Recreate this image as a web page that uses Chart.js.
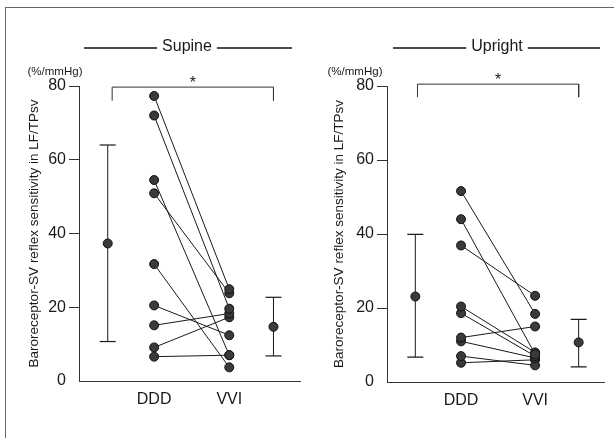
<!DOCTYPE html>
<html lang="en">
<head>
  <meta charset="UTF-8">
  <script src="https://cdn.jsdelivr.net/npm/chart.js"></script>
  <style>
    html, body { margin: 0; padding: 0; background: #fff; }
    #wrap { position: relative; width: 614px; height: 438px; overflow: hidden; }
    #frame {
      position: absolute; left: 5px; top: 7px; width: 640px; height: 460px;
      border-top: 1px solid #666; border-left: 1px solid #666; /* scanned page edge */
    }
    canvas { position: absolute; top: 0; }
    #supineChart { left: 0; }
    #uprightChart { left: 310px; }
  </style>
</head>
<body>
  <div id="wrap">
    <div id="frame"></div>
    <canvas id="supineChart" width="310" height="438"></canvas>
    <canvas id="uprightChart" width="304" height="438"></canvas>
  </div>

  <script>
    // categories and where they sit on the (hidden) 0..10 x scale
    const groups = ['DDD', 'VVI'];
    const groupX = [3.4, 6.8];
    const meanX = [1.3, 8.8];
    const yTicks = [0, 20, 40, 60, 80];

    // individual patients, DDD value paired with VVI value
    const supineDDD = [77.3, 72.0, 54.5, 50.9, 31.7, 20.5, 15.1, 9.1, 6.6];
    const supineVVI = [24.9, 19.6, 7.0, 23.8, 3.7, 12.4, 18.3, 17.3, 7.0];
    const supineMean = [37.3, 14.7];
    const supineLow = [10.7, 6.8];
    const supineHigh = [64.0, 22.7];

    const uprightDDD = [51.6, 44.0, 36.9, 20.4, 18.6, 12.0, 11.0, 7.0, 5.2];
    const uprightVVI = [18.4, 7.5, 23.3, 8.0, 7.0, 15.0, 6.5, 4.5, 6.0];
    const uprightMean = [23.1, 10.7];
    const uprightLow = [6.7, 4.1];
    const uprightHigh = [39.9, 16.9];

    const ink = '#1a1a1a';
    const font = 'Liberation Sans, Arial, sans-serif';

    // panel heading with rules, unit label and the significance star
    const annotations = {
      id: 'annotations',
      afterDraw(chart, args, opts) {
        const ctx = chart.ctx;
        ctx.save();
        ctx.fillStyle = ink;
        ctx.strokeStyle = '#111';
        ctx.lineWidth = 1.6;

        ctx.font = '16px ' + font;
        ctx.textAlign = 'center';
        ctx.textBaseline = 'middle';
        const w = ctx.measureText(opts.title).width;
        ctx.fillText(opts.title, opts.cx, opts.ty);
        ctx.beginPath();
        ctx.moveTo(opts.x0, opts.ty + 1);
        ctx.lineTo(opts.cx - w / 2 - 5, opts.ty + 1);
        ctx.moveTo(opts.cx + w / 2 + 5, opts.ty + 1);
        ctx.lineTo(opts.x1, opts.ty + 1);
        ctx.stroke();

        const xs = chart.scales.x;
        const ys = chart.scales.y;
        ctx.font = '16px ' + font;
        ctx.fillText('*', xs.getPixelForValue((opts.bx[0] + opts.bx[1]) / 2), ys.getPixelForValue(opts.by[1]) - 4);

        ctx.font = '11.5px ' + font;
        ctx.fillText('(%/mmHg)', opts.ux, 72);
        ctx.restore();
      }
    };

    function makeChart(id, ddd, vvi, mean, low, high, o) {
      const datasets = [];

      // means with SD bars
      for (let g = 0; g < 2; g++) {
        datasets.push({
          data: [{ x: meanX[g], y: mean[g] }],
          pointRadius: 4.5, backgroundColor: '#3a3a3a', borderColor: '#111', borderWidth: 1
        });
        datasets.push({
          data: [{ x: meanX[g], y: low[g] }, { x: meanX[g], y: high[g] }],
          showLine: true, borderColor: ink, borderWidth: 1,
          pointStyle: 'line', pointRadius: 8, pointBorderColor: ink, pointBorderWidth: 1.2
        });
      }

      // paired patients
      for (let i = 0; i < ddd.length; i++) {
        datasets.push({
          data: [{ x: groupX[0], y: ddd[i] }, { x: groupX[1], y: vvi[i] }],
          showLine: true, borderColor: ink, borderWidth: 1,
          pointRadius: 4.5, pointBackgroundColor: '#3a3a3a', pointBorderColor: '#111', pointBorderWidth: 1
        });
      }

      // significance bracket
      datasets.push({
        data: [
          { x: o.bx[0], y: o.by[0] }, { x: o.bx[0], y: o.by[1] },
          { x: o.bx[1], y: o.by[1] }, { x: o.bx[1], y: o.by[0] }
        ],
        showLine: true, borderColor: '#333', borderWidth: 1, pointRadius: 0, clip: false
      });

      return new Chart(document.getElementById(id), {
        type: 'scatter',
        data: { datasets },
        plugins: [annotations],
        options: {
          responsive: false,
          animation: false,
          layout: { padding: { top: 86, right: o.padRight, left: 0, bottom: 0 } },
          plugins: {
            legend: { display: false },
            tooltip: { enabled: false },
            annotations: o
          },
          scales: {
            x: {
              type: 'linear', min: 0, max: 10,
              afterBuildTicks: s => { s.ticks = groupX.map(v => ({ value: v })); },
              afterFit: s => { s.height = o.xHeight; },
              grid: { display: false, drawTicks: false },
              border: { display: true, color: '#333', width: 1 },
              ticks: {
                padding: 9, color: ink, font: { family: font, size: 16 },
                callback: (v, i) => groups[i]
              }
            },
            y: {
              min: 0, max: 80,
              afterBuildTicks: s => { s.ticks = yTicks.map(v => ({ value: v })); },
              afterFit: s => { s.width = o.yWidth; },
              grid: {
                drawOnChartArea: false, tickLength: 10,
                color: c => (c.tick && c.tick.value === 0 ? 'rgba(0,0,0,0)' : '#333')
              },
              border: { display: true, color: '#333', width: 1 },
              ticks: { padding: 3, color: ink, font: { family: font, size: 16 } },
              title: {
                display: true,
                text: 'Baroreceptor-SV reflex sensitivity in LF/TPsv',
                color: ink,
                font: { family: font, size: 13.5 },
                padding: { top: o.titlePad, bottom: 0 }
              }
            }
          }
        }
      });
    }

    makeChart('supineChart', supineDDD, supineVVI, supineMean, supineLow, supineHigh, {
      title: 'Supine', cx: 187, ty: 47, x0: 84, x1: 292, ux: 55,
      bx: [1.5, 8.8], by: [76, 79.7],
      padRight: 10, xHeight: 57, yWidth: 79, titlePad: 26
    });

    makeChart('uprightChart', uprightDDD, uprightVVI, uprightMean, uprightLow, uprightHigh, {
      title: 'Upright', cx: 187, ty: 47, x0: 83, x1: 290, ux: 45,
      bx: [1.4, 8.8], by: [77, 80.5],
      padRight: 9, xHeight: 56, yWidth: 77, titlePad: 21
    });
  </script>
</body>
</html>
